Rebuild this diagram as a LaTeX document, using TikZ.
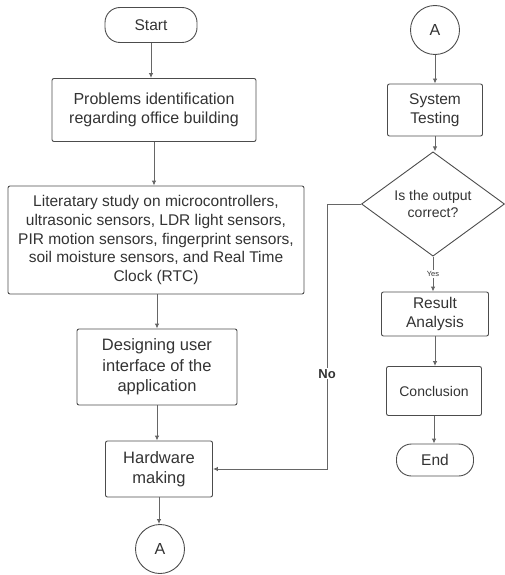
\documentclass[tikz,border=0pt]{standalone}
\usepackage{fontspec}
\setmainfont{Liberation Sans}
\usetikzlibrary{shapes.geometric, arrows.meta}

\begin{document}
\begin{tikzpicture}[x=1pt, y=-1pt,
    box/.style={draw=black!70, rounded corners=2pt, line width=0.9pt, align=center, inner sep=0pt, text=black!80, font=\fontsize{15.5}{18.7}\selectfont},
    term/.style={box, rounded corners=15pt},
    link/.style={circle, draw=black!70, line width=0.9pt, inner sep=0pt, minimum size=49pt, text=black!80, font=\fontsize{16}{19}\selectfont},
    decision/.style={diamond, draw=black!70, line width=0.9pt, inner sep=0pt, align=center, text=black!80, font=\fontsize{14}{17}\selectfont},
    arrow/.style={draw=black!60, line width=0.9pt, -{Latex[length=5pt,width=4.5pt]}}
  ]
    \def \gap {34} % offset of the No line from the decision

    \useasboundingbox (0,0) rectangle (504,575);

    % Left column
    \node[term, minimum width=92, minimum height=35] (start) at (151,25) {Start};
    \node[box, minimum width=204, minimum height=63, font=\fontsize{16}{18.5}\selectfont] (problem) at (154,110) {Problems identification\\regarding office building};
    \node[box, minimum width=296, minimum height=108] (study) at (156,240) {Literatary study on microcontrollers,\\ultrasonic sensors, LDR light sensors,\\PIR motion sensors, fingerprint sensors,\\soil moisture sensors, and Real Time\\Clock (RTC)};
    \node[box, minimum width=160, minimum height=76, font=\fontsize{16.5}{20.5}\selectfont] (design) at (157,367) {Designing user\\interface of the\\application};
    \node[box, minimum width=107, minimum height=56, font=\fontsize{16.5}{20.5}\selectfont] (hardware) at (159,469) {Hardware\\making};
    \node[link] (a1) at (160,549) {A};

    % Right column
    \node[link] (a2) at (435,30) {A};
    \node[box, minimum width=95, minimum height=52] (test) at (435,110) {System\\Testing};
    \node[decision, minimum width=143, minimum height=72] (check) at (433,204) {Is the output\\correct?};
    \node[box, minimum width=107, minimum height=44] (result) at (435,314) {Result\\Analysis};
    \node[box, minimum width=95, minimum height=49, font=\fontsize{14}{17}\selectfont] (conclusion) at (434,391) {Conclusion};
    \node[term, minimum width=77, minimum height=32] (end) at (435,460) {End};

    % Arrows
    \draw[arrow] (start.south) -- (start.south |- problem.north);
    \draw[arrow] (problem.south) -- (problem.south |- study.north);
    \draw[arrow] (study.south -| design.north) -- (design.north);
    \draw[arrow] (design.south) -- (design.south |- hardware.north);
    \draw[arrow] (hardware.south) -- (hardware.south |- a1.north);
    \draw[arrow] (a2.south) -- (a2.south |- test.north);
    \draw[arrow] (test.south) -- (test.south |- check.north);
    \draw[arrow] (check.south) -- node[fill=white, inner sep=1pt, text=black!80, font=\fontsize{7.5}{9}\selectfont] {Yes} (check.south |- result.north);
    \draw[arrow] (result.south) -- (result.south |- conclusion.north);
    \draw[arrow] (conclusion.south) -- (conclusion.south |- end.north);
    \draw[arrow] (check.west) -- ++(-\gap,0) |- node[pos=0.32, fill=white, inner sep=1pt, text=black!80, font=\bfseries\fontsize{13}{15}\selectfont] {No} (hardware.east);
  \end{tikzpicture}
\end{document}
